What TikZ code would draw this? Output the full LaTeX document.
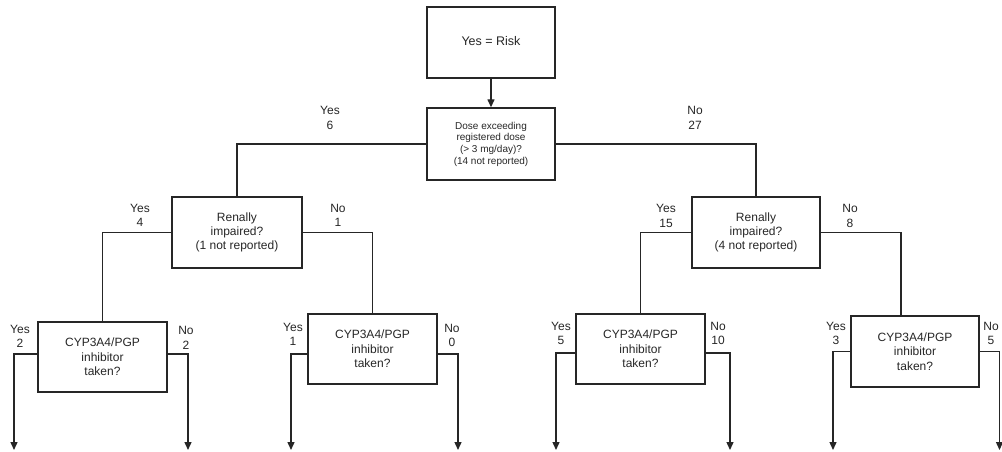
\documentclass[tikz,border=0pt]{standalone}
\usepackage{fontspec}
\setmainfont{Liberation Sans}
\usetikzlibrary{arrows.meta}
\definecolor{ink}{HTML}{262626}
\begin{document}
\begin{tikzpicture}[x=1pt,y=-1pt,
  box/.style={draw=ink,line width=1.4pt,inner sep=0pt,align=center,text=ink},
  lbl/.style={inner sep=0pt,align=center,text=ink,font=\fontsize{12}{14.5}\selectfont},
  link/.style={draw=ink,line width=1.4pt},
  arr/.style={link,-{Triangle[width=7pt,length=8pt]}}]
\useasboundingbox (0,0) rectangle (1002,452);
% boxes
\node[box,minimum width=128pt,minimum height=71pt,font=\fontsize{12.5}{15}\selectfont] (top) at (491,42.5) {\raisebox{3pt}{Yes = Risk}};
\node[box,minimum width=128pt,minimum height=72pt,font=\fontsize{10}{11.7}\selectfont] (dose) at (491,144) {Dose exceeding\\registered dose\\(> 3 mg/day)?\\(14 not reported)};
\node[box,minimum width=130pt,minimum height=71pt,font=\fontsize{12}{14}\selectfont] (renL) at (237,232.5) {Renally\\impaired?\\(1 not reported)};
\node[box,minimum width=128pt,minimum height=71pt,font=\fontsize{12}{14}\selectfont] (renR) at (756,232.5) {Renally\\impaired?\\(4 not reported)};
\node[box,minimum width=129pt,minimum height=70pt,font=\fontsize{12}{14.5}\selectfont] (cLL) at (102.5,357) {CYP3A4/PGP\\inhibitor\\taken?};
\node[box,minimum width=129pt,minimum height=70pt,font=\fontsize{12}{14.5}\selectfont] (cLR) at (372.5,349) {CYP3A4/PGP\\inhibitor\\taken?};
\node[box,minimum width=129pt,minimum height=70pt,font=\fontsize{12}{14.5}\selectfont] (cRL) at (640.5,349) {CYP3A4/PGP\\inhibitor\\taken?};
\node[box,minimum width=128pt,minimum height=71pt,font=\fontsize{12}{14.5}\selectfont] (cRR) at (915,351.5) {CYP3A4/PGP\\inhibitor\\taken?};
% free ends
\coordinate (e1) at (14,450);
\coordinate (e2) at (188,450);
\coordinate (e3) at (291,450);
\coordinate (e4) at (458,450);
\coordinate (e5) at (556,450);
\coordinate (e6) at (730,450);
\coordinate (e7) at (833,450);
\coordinate (e8) at (999.5,450);
% connectors
\draw[arr] (top) -- (dose);
\draw[link] (dose.west) -| (renL.north);
\draw[link] (dose.east) -| (renR.north);
\draw[link] (renL.west) -| (cLL.north);
\draw[link] (renL.east) -| (cLR.north);
\draw[link] (renR.west) -| (cRL.north);
\draw[link] (renR.east) -| ([xshift=-14pt]cRR.north);
\draw[arr] ([yshift=3pt]cLL.west) -| (e1);
\draw[arr] ([yshift=3pt]cLL.east) -| (e2);
\draw[arr] ([yshift=-5pt]cLR.west) -| (e3);
\draw[arr] ([yshift=-5pt]cLR.east) -| (e4);
\draw[arr] ([yshift=-4pt]cRL.west) -| (e5);
\draw[arr] ([yshift=-4pt]cRL.east) -| (e6);
\draw[arr] (cRR.west) -| (e7);
\draw[arr] (cRR.east) -| (e8);
% labels
\node[lbl] (l1) at (330,118) {Yes\\6};
\node[lbl] (l2) at (695,118) {No\\27};
\node[lbl] (l3) at (140,215.5) {Yes\\4};
\node[lbl] (l4) at (338,215.5) {No\\1};
\node[lbl] (l5) at (666,216) {Yes\\15};
\node[lbl] (l6) at (850,216) {No\\8};
\node[lbl] (l7) at (20,336.5) {Yes\\2};
\node[lbl] (l8) at (186,338) {No\\2};
\node[lbl] (l9) at (293,334.5) {Yes\\1};
\node[lbl] (l10) at (452,335.5) {No\\0};
\node[lbl] (l11) at (561,333.5) {Yes\\5};
\node[lbl] (l12) at (718,333.5) {No\\10};
\node[lbl] (l13) at (836,333.5) {Yes\\3};
\node[lbl] (l14) at (991,333.5) {No\\5};
\end{tikzpicture}
\end{document}
